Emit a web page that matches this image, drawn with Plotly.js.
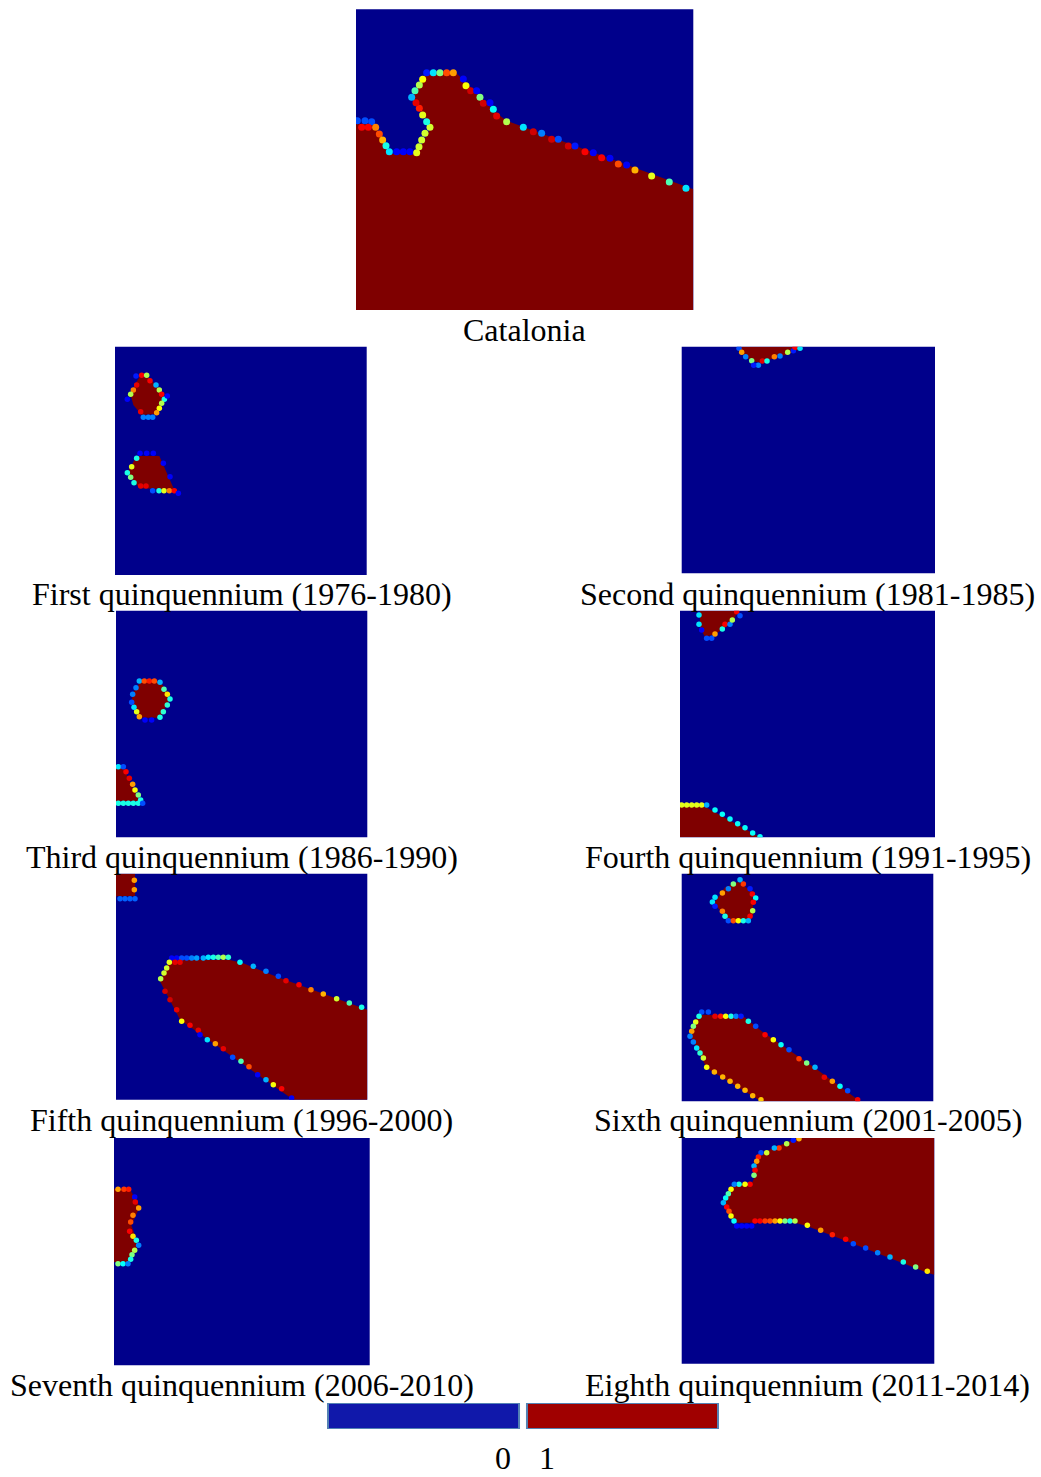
<!DOCTYPE html>
<html><head><meta charset="utf-8">
<script src="https://cdn.plot.ly/plotly-3.0.1.min.js"></script>
<style>body{margin:0;background:#fff}#chart{width:1041px;height:1477px}</style>
</head><body><div id="chart"></div>
<script>
// ---------- DATA (map coordinates of each SOM plane) ----------
const panelTitles = ['Catalonia','First quinquennium (1976-1980)','Second quinquennium (1981-1985)',
  'Third quinquennium (1986-1990)','Fourth quinquennium (1991-1995)','Fifth quinquennium (1996-2000)',
  'Sixth quinquennium (2001-2005)','Seventh quinquennium (2006-2010)','Eighth quinquennium (2011-2014)'];
const legendValues = [0, 1];
const legendLabels = ['0', '1'];

// Catalonia
const cat_redX = [18,72,85,98,112,120,200,243,188,228,315,345,400,440,470,1030,1030,18];
const cat_redY = [372,372,395,420,445,462,462,382,295,215,215,245,302,340,362,568,930,930];
const cat_dotX = [22,45,65,35,55,77,88,98,108,118,140,160,180,200,207,215,225,240,230,218,208,198,185,195,208,218,230,250,270,290,310,340,348,362,380,390,400,420,430,440,470,520,550,575,605,625,655,675,705,730,755,780,805,830,855,905,958,1008];
const cat_dotY = [362,362,365,382,382,382,402,420,437,455,455,455,455,458,440,420,400,382,365,345,325,308,292,272,255,238,218,218,218,218,218,237,257,272,272,292,310,308,328,348,365,382,395,400,418,418,438,438,455,458,473,475,492,495,510,528,546,565];
const cat_dotV = [0.2,0.2,0.2,0.88,0.88,0.75,0.8,0.7,0.4,0.35,0.12,0.12,0.12,0.6,0.58,0.58,0.58,0.58,0.4,0.6,0.85,0.9,0.3,0.45,0.55,0.62,0.15,0.35,0.5,0.8,0.72,0.12,0.62,0.92,0.12,0.5,0.92,0.12,0.38,0.9,0.55,0.35,0.92,0.25,0.92,0.2,0.92,0.15,0.88,0.12,0.88,0.12,0.8,0.12,0.7,0.6,0.45,0.35];

// First quinquennium
const q1_redX = [88,115,150,160,140,95,70,62,78,null,80,148,192,88,52];
const q1_redY = [112,112,148,178,222,225,195,165,128,null,348,348,448,445,398];
const q1_dotX = [78,95,110,120,138,148,155,163,155,148,140,100,115,128,92,80,70,62,52,172,80,65,52,62,72,92,108,128,147,162,178,193,90,110,130,160,180,205];
const q1_dotY = [108,106,106,122,135,150,163,178,190,205,218,232,232,232,215,135,150,163,178,168,355,380,398,412,428,438,438,452,452,452,452,452,340,340,340,370,410,460];
const q1_dotV = [0.15,0.88,0.55,0.88,0.3,0.55,0.88,0.4,0.55,0.62,0.72,0.25,0.25,0.25,0.9,0.9,0.75,0.55,0.12,0.12,0.4,0.6,0.4,0.5,0.4,0.9,0.9,0.2,0.4,0.6,0.75,0.88,0.12,0.12,0.12,0.12,0.12,0.12];

// Second quinquennium
const q2_redX = [195,385,352,300,255,228,200];
const q2_redY = [20,20,38,55,68,62,40];
const q2_dotX = [192,200,212,230,250,262,276,298,315,338,355,360,375,236];
const q2_dotY = [25,37,50,62,76,63,63,50,48,37,32,22,25,76];
const q2_dotV = [0.2,0.72,0.25,0.5,0.25,0.9,0.4,0.75,0.25,0.55,0.15,0.88,0.35,0.15];

// Third quinquennium
const q3_redX = [95,150,175,178,150,88,65,68,null,18,38,88,18];
const q3_redY = [225,228,268,285,338,338,292,265,null,485,485,588,588];
const q3_dotX = [88,103,118,133,150,162,172,180,172,160,150,88,80,72,65,68,78,105,125,25,40,48,58,68,75,85,92,25,40,55,70,85,98];
const q3_dotY = [228,228,228,228,232,253,268,282,300,320,337,335,320,307,292,268,248,345,345,485,485,500,520,538,555,570,585,595,595,595,595,595,595];
const q3_dotV = [0.3,0.8,0.85,0.8,0.3,0.45,0.65,0.4,0.42,0.42,0.4,0.72,0.6,0.35,0.2,0.25,0.25,0.12,0.12,0.35,0.2,0.88,0.9,0.72,0.62,0.5,0.4,0.4,0.4,0.4,0.4,0.4,0.2];

// Fourth quinquennium
const q4_redX = [75,190,175,150,120,90,75,null,15,90,255,15];
const q4_redY = [17,17,45,68,88,95,70,null,605,605,697,697];
const q4_dotX = [72,72,80,95,110,120,142,150,165,172,185,195,20,35,50,65,80,95,120,142,165,188,210,233,255];
const q4_dotY = [30,58,75,100,100,87,72,58,58,45,20,32,600,600,600,600,600,600,615,628,642,656,668,684,695];
const q4_dotV = [0.35,0.35,0.12,0.2,0.2,0.72,0.4,0.88,0.25,0.55,0.88,0.2,0.6,0.6,0.6,0.6,0.6,0.3,0.38,0.38,0.38,0.38,0.38,0.38,0.38];

// Fifth quinquennium
const q5_redX = [18,75,75,18,null,180,360,400,500,772,772,550,210,150];
const q5_redY = [17,17,85,85,null,276,276,286,326,425,695,695,455,340];
const q5_dotX = [73,73,30,45,60,75,185,200,215,230,245,260,280,295,310,325,340,355,178,170,162,152,195,210,390,430,468,505,528,567,603,640,680,718,755,165,180,200,215,240,265,270,292,316,340,368,393,417,443,468,490,515,545];
const q5_dotY = [37,65,92,92,92,92,270,270,270,270,270,270,270,268,268,268,268,268,283,300,315,332,283,283,283,295,310,325,338,350,365,378,392,405,418,370,395,425,460,472,487,500,515,527,542,568,580,596,620,635,650,662,690];
const q5_dotV = [0.72,0.72,0.22,0.22,0.22,0.22,0.12,0.12,0.2,0.2,0.25,0.28,0.3,0.35,0.4,0.45,0.55,0.42,0.6,0.58,0.58,0.55,0.9,0.9,0.38,0.3,0.25,0.2,0.9,0.88,0.75,0.7,0.58,0.45,0.4,0.92,0.92,0.9,0.62,0.88,0.9,0.12,0.35,0.72,0.9,0.2,0.45,0.8,0.12,0.3,0.62,0.88,0.12];

// Sixth quinquennium
const q6_redX = [190,232,235,220,160,118,150,null,80,205,260,420,555,258,95,45,65];
const q6_redY = [42,72,140,160,160,105,58,null,440,445,490,600,700,700,600,500,452];
const q6_dotX = [195,175,205,160,225,142,232,120,242,112,235,120,233,142,150,225,160,175,190,205,220,80,100,120,137,152,168,183,198,220,72,62,55,50,45,55,65,75,85,95,118,143,165,188,210,233,258,242,270,295,318,342,372,395,420,448,472,495,518,548];
const q6_dotY = [35,48,48,62,62,75,78,88,90,102,103,115,128,130,145,145,158,158,158,158,158,432,432,445,445,445,445,445,445,460,445,462,475,490,505,522,540,555,570,598,612,627,640,655,667,683,695,475,500,515,530,545,572,585,598,628,640,655,668,695];
const q6_dotV = [0.3,0.5,0.82,0.25,0.15,0.72,0.88,0.35,0.38,0.35,0.88,0.15,0.55,0.75,0.4,0.88,0.2,0.8,0.62,0.4,0.3,0.2,0.2,0.9,0.85,0.62,0.4,0.25,0.15,0.4,0.4,0.6,0.5,0.72,0.25,0.25,0.35,0.42,0.58,0.62,0.7,0.7,0.7,0.7,0.7,0.7,0.68,0.2,0.88,0.62,0.38,0.2,0.82,0.5,0.3,0.9,0.72,0.38,0.2,0.88];

// Seventh quinquennium
const q7_redX = [18,65,95,70,90,70,18];
const q7_redY = [170,170,225,280,335,390,390];
const q7_dotX = [30,48,62,80,82,92,75,68,65,75,85,92,80,72,68,30,45,60];
const q7_dotY = [172,172,172,195,210,228,250,270,298,313,325,340,355,368,382,395,395,395];
const q7_dotV = [0.72,0.82,0.85,0.12,0.9,0.72,0.75,0.8,0.88,0.65,0.4,0.25,0.55,0.5,0.4,0.5,0.38,0.25];

// Eighth quinquennium
const q8_redX = [365,778,778,757,475,395,360,185,172,148,160,178,228,240,235,250,300,335];
const q8_redY = [18,18,428,422,312,282,272,272,262,212,175,160,160,132,100,72,45,32];
const q8_dotX = [372,355,335,312,298,275,258,250,245,237,240,237,225,210,192,178,168,160,152,145,155,162,168,177,185,200,215,230,240,255,270,285,300,315,330,345,360,397,437,472,512,535,572,608,645,685,722,757];
const q8_dotY = [20,25,35,48,48,62,62,75,88,102,115,130,157,157,157,157,172,185,198,212,225,238,252,267,282,282,282,282,267,267,267,267,267,267,267,267,267,280,295,308,322,335,348,362,375,390,405,418];
const q8_dotV = [0.7,0.15,0.55,0.82,0.3,0.58,0.2,0.85,0.72,0.3,0.88,0.5,0.88,0.62,0.4,0.25,0.62,0.45,0.38,0.3,0.88,0.8,0.62,0.38,0.12,0.12,0.12,0.12,0.88,0.88,0.82,0.8,0.72,0.62,0.5,0.4,0.55,0.62,0.72,0.85,0.88,0.2,0.2,0.25,0.3,0.4,0.5,0.65];

// ---------- LAYOUT CONFIG ----------
const W = 1041, H = 1477;
const BLUE = 'rgb(0,0,139)', RED = 'rgb(127,0,0)';
const jet = [[0,'rgb(0,0,128)'],[0.125,'rgb(0,0,255)'],[0.375,'rgb(0,255,255)'],[0.625,'rgb(255,255,0)'],[0.875,'rgb(255,0,0)'],[1,'rgb(128,0,0)']];
const panels = [
  {rx:cat_redX, ry:cat_redY, dx:cat_dotX, dy:cat_dotY, dv:cat_dotV, box:[356,693.3,9.3,310], xr:[18,1030], yr:[930,28], ms:7, tp:[524,330]},
  {rx:q1_redX, ry:q1_redY, dx:q1_dotX, dy:q1_dotY, dv:q1_dotV, box:[115,366.7,346.7,575], xr:[15,770], yr:[705,20], ms:5.5, tp:[241.5,594]},
  {rx:q2_redX, ry:q2_redY, dx:q2_dotX, dy:q2_dotY, dv:q2_dotV, box:[681.7,935,346.7,573.3], xr:[20,780], yr:[700,20], ms:5.5, tp:[807.5,594]},
  {rx:q3_redX, ry:q3_redY, dx:q3_dotX, dy:q3_dotY, dv:q3_dotV, box:[116,367.3,610.7,837.3], xr:[18,772], yr:[697,17], ms:5.5, tp:[242,857]},
  {rx:q4_redX, ry:q4_redY, dx:q4_dotX, dy:q4_dotY, dv:q4_dotV, box:[680,935,610.7,837.3], xr:[15,780], yr:[697,17], ms:5.5, tp:[807.5,857]},
  {rx:q5_redX, ry:q5_redY, dx:q5_dotX, dy:q5_dotY, dv:q5_dotV, box:[116,367.3,873.7,1099.7], xr:[18,772], yr:[695,17], ms:5.5, tp:[241.5,1120]},
  {rx:q6_redX, ry:q6_redY, dx:q6_dotX, dy:q6_dotY, dv:q6_dotV, box:[681.7,933.3,873.7,1101.3], xr:[20,775], yr:[700,17], ms:5.5, tp:[807.5,1120]},
  {rx:q7_redX, ry:q7_redY, dx:q7_dotX, dy:q7_dotY, dv:q7_dotV, box:[114,369.7,1138,1365.3], xr:[18,785], yr:[700,18], ms:5.5, tp:[241.5,1385]},
  {rx:q8_redX, ry:q8_redY, dx:q8_dotX, dy:q8_dotY, dv:q8_dotV, box:[681.7,934.3,1138,1363.7], xr:[20,778], yr:[695,18], ms:5.5, tp:[807.5,1385]}
];

const traces = [], shapes = [], annotations = [];
const layout = {width:W, height:H, margin:{l:0,r:0,t:0,b:0}, paper_bgcolor:'#fff', plot_bgcolor:'rgba(0,0,0,0)', showlegend:false};
const font = {family:'"Liberation Serif", "Times New Roman", serif', size:32, color:'#000'};

panels.forEach((p, i) => {
  const n = i + 1, xa = n === 1 ? 'x' : 'x' + n, ya = n === 1 ? 'y' : 'y' + n;
  const axBase = {showgrid:false, zeroline:false, showticklabels:false, ticks:'', showline:false, fixedrange:true};
  layout[n === 1 ? 'xaxis' : 'xaxis' + n] = Object.assign({}, axBase, {domain:[p.box[0]/W, p.box[1]/W], range:p.xr, anchor:ya});
  layout[n === 1 ? 'yaxis' : 'yaxis' + n] = Object.assign({}, axBase, {domain:[1 - p.box[3]/H, 1 - p.box[2]/H], range:p.yr, anchor:xa});
  shapes.push({type:'rect', xref:xa + ' domain', yref:ya + ' domain', x0:0, x1:1, y0:0, y1:1, fillcolor:BLUE, line:{width:0}, layer:'below'});
  traces.push({type:'scatter', x:p.rx, y:p.ry, xaxis:xa, yaxis:ya, mode:'lines', fill:'toself', fillcolor:RED, line:{width:0, color:RED}, hoverinfo:'skip', connectgaps:false});
  traces.push({type:'scatter', x:p.dx, y:p.dy, xaxis:xa, yaxis:ya, mode:'markers', hoverinfo:'skip', cliponaxis:true,
    marker:{size:p.ms, color:p.dv, colorscale:jet, cmin:0, cmax:1, line:{width:0}}});
  annotations.push({xref:'paper', yref:'paper', x:p.tp[0]/W, y:1 - p.tp[1]/H, text:panelTitles[i], showarrow:false, xanchor:'center', yanchor:'middle', font:font});
});

// legend key
layout.xaxis10 = {domain:[327/W, 719/W], range:[-0.485, 1.485], showgrid:false, zeroline:false, showticklabels:false, ticks:'', fixedrange:true, anchor:'y10'};
layout.yaxis10 = {domain:[1 - 1429/H, 1 - 1403/H], range:[0, 1], showgrid:false, zeroline:false, showticklabels:false, ticks:'', fixedrange:true, anchor:'x10'};
traces.push({type:'bar', x:legendValues, y:[1, 1], width:[0.96, 0.96], xaxis:'x10', yaxis:'y10', hoverinfo:'skip',
  marker:{color:['rgb(16,24,170)', 'rgb(160,0,0)'], line:{color:'rgb(84,130,180)', width:2}}});
const legendLabelX = [503, 547];
legendLabels.forEach((t, k) => annotations.push({xref:'paper', yref:'paper', x:legendLabelX[k]/W, y:1 - 1458/H, text:t, showarrow:false, xanchor:'center', yanchor:'middle', font:font}));

layout.shapes = shapes;
layout.annotations = annotations;
Plotly.newPlot('chart', traces, layout, {staticPlot:true, displayModeBar:false});
</script>
</body></html>
